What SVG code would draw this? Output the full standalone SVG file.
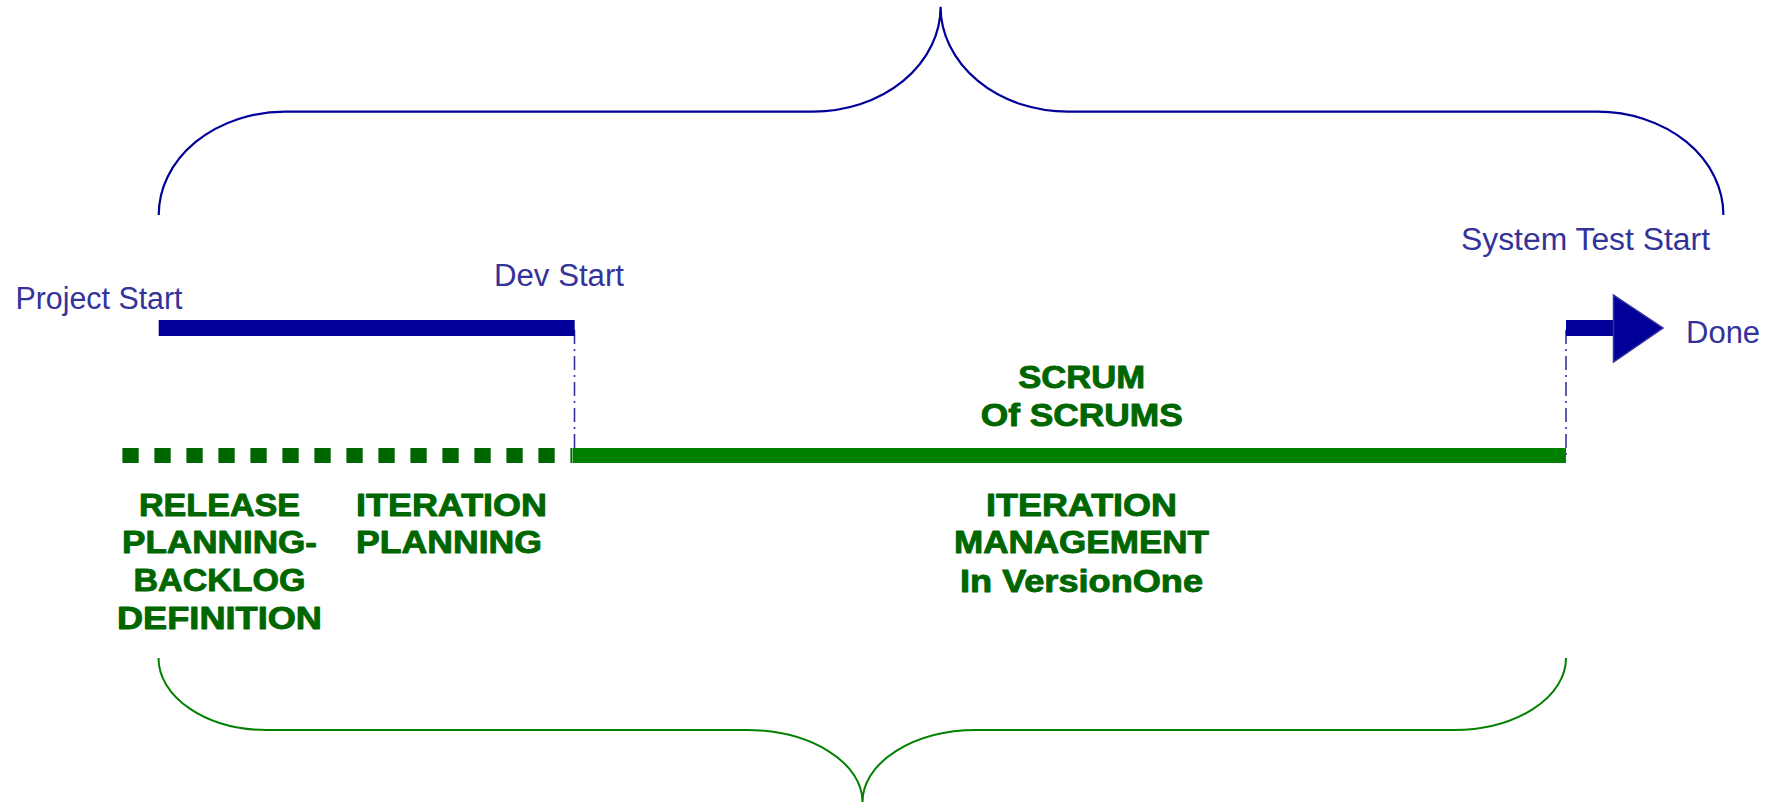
<svg xmlns="http://www.w3.org/2000/svg" width="1777" height="805" viewBox="0 0 1777 805">
<style>
.lbl{font-family:"Liberation Sans",Arial,sans-serif;font-size:31px;fill:#333399}
.gt{font-family:"Liberation Sans",Arial,sans-serif;font-weight:bold;font-size:31px;fill:#006600;stroke:#006600;stroke-width:0.9;stroke-linejoin:round}
.brace-top{fill:none;stroke:#000099;stroke-width:2.2}
.brace-bot{fill:none;stroke:#008000;stroke-width:2}
.guide{fill:none;stroke:#333399;stroke-width:1.6;stroke-dasharray:14 5 2 5}
</style>
<rect width="1777" height="805" fill="#ffffff"/>
<g id="connectors">
  <path id="brace-top" class="brace-top" d="M158.7,215 A126.3,103.3 0 0 1 285,111.7 L813,111.7 A127.6,105 0 0 0 940.6,6.7 A127.4,105 0 0 0 1068,111.7 L1597.5,111.7 A125.9,103.3 0 0 1 1723.4,215"/>
  <path id="brace-bottom" class="brace-bot" d="M158.5,658 A108,72 0 0 0 266.5,730 L746,730 A116.5,72 0 0 1 862.5,802 A114,72 0 0 1 976.5,730 L1454,730 A112,72 0 0 0 1566,658"/>
  <line class="guide" x1="574.5" y1="330" x2="574.5" y2="456"/>
  <line class="guide" x1="1566" y1="330" x2="1566" y2="456"/>
</g>
<g id="planning-dotted">
  <line x1="122.4" y1="455.5" x2="572" y2="455.5" stroke="#006600" stroke-width="15" stroke-dasharray="16.3 15.7"/>
</g>
<g id="dev-bar">
  <rect x="158.7" y="320" width="416" height="16" fill="#000099"/>
</g>
<g id="scrum-bar">
  <rect x="572.5" y="448" width="993.5" height="15" fill="#008000"/>
</g>
<g id="systest-arrow">
  <rect x="1566" y="320" width="50" height="16" fill="#000099"/>
  <polygon points="1613.5,295 1663,328 1613.5,362" fill="#000099" stroke="#333399" stroke-width="1.5" stroke-linejoin="miter"/>
</g>
<g id="project-start"><text class="lbl" x="15.5" y="309" textLength="167" lengthAdjust="spacingAndGlyphs">Project Start</text></g>
<g id="dev-start"><text class="lbl" x="494" y="286" textLength="130" lengthAdjust="spacingAndGlyphs">Dev Start</text></g>
<g id="system-test-start"><text class="lbl" x="1461" y="250" textLength="249" lengthAdjust="spacingAndGlyphs">System Test Start</text></g>
<g id="done"><text class="lbl" x="1686" y="343">Done</text></g>
<g id="release-planning">
  <text class="gt" x="219.5" y="516" text-anchor="middle" textLength="161" lengthAdjust="spacingAndGlyphs">RELEASE</text>
  <text class="gt" x="219.5" y="553" text-anchor="middle" textLength="195" lengthAdjust="spacingAndGlyphs">PLANNING-</text>
  <text class="gt" x="219.5" y="591" text-anchor="middle" textLength="172" lengthAdjust="spacingAndGlyphs">BACKLOG</text>
  <text class="gt" x="219.5" y="629" text-anchor="middle" textLength="205" lengthAdjust="spacingAndGlyphs">DEFINITION</text>
</g>
<g id="iteration-planning">
  <text class="gt" x="356" y="516" textLength="191" lengthAdjust="spacingAndGlyphs">ITERATION</text>
  <text class="gt" x="356" y="553" textLength="186" lengthAdjust="spacingAndGlyphs">PLANNING</text>
</g>
<g id="scrum-of-scrums">
  <text class="gt" x="1081.7" y="388" text-anchor="middle" textLength="127" lengthAdjust="spacingAndGlyphs">SCRUM</text>
  <text class="gt" x="1081.7" y="426" text-anchor="middle" textLength="202" lengthAdjust="spacingAndGlyphs">Of SCRUMS</text>
</g>
<g id="iteration-management">
  <text class="gt" x="1081.5" y="516" text-anchor="middle" textLength="191" lengthAdjust="spacingAndGlyphs">ITERATION</text>
  <text class="gt" x="1081.5" y="553" text-anchor="middle" textLength="255" lengthAdjust="spacingAndGlyphs">MANAGEMENT</text>
  <text class="gt" x="1081.5" y="591.5" text-anchor="middle" textLength="243" lengthAdjust="spacingAndGlyphs">In VersionOne</text>
</g>
</svg>
